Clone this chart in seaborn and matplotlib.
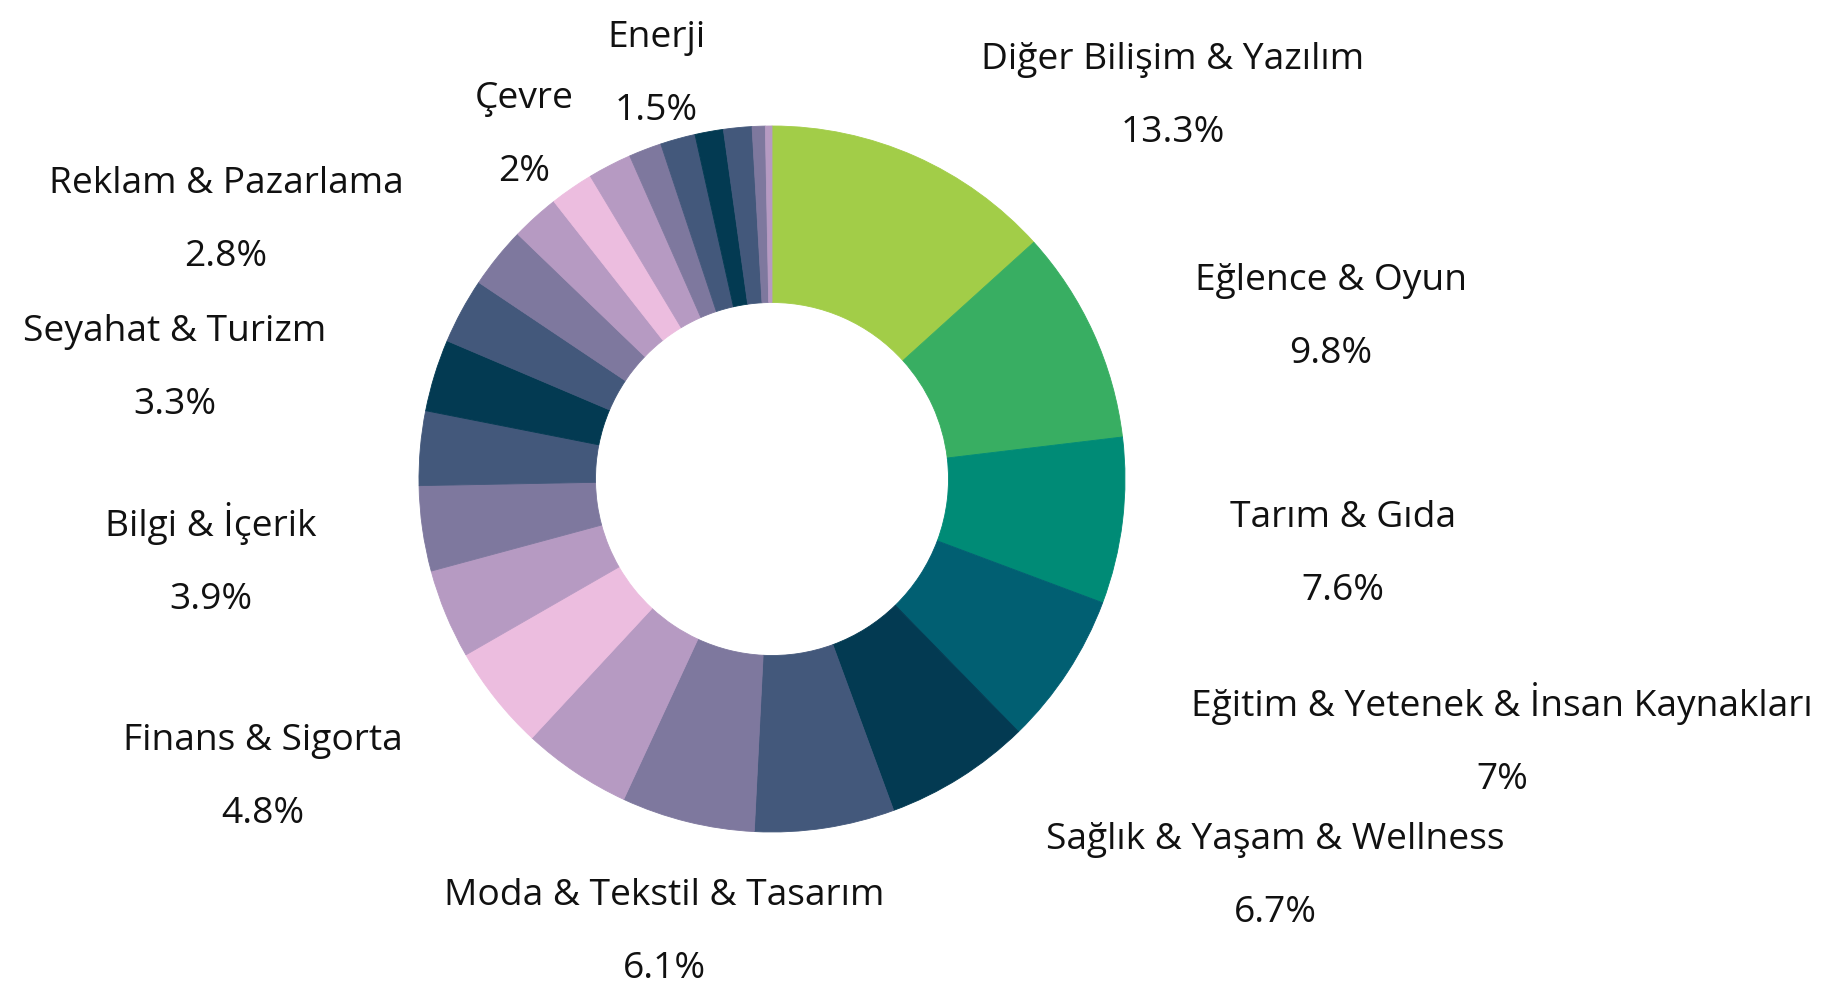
import matplotlib
matplotlib.use("Agg")
import matplotlib.pyplot as plt
import seaborn as sns

# ---- data (clockwise from 12 o'clock) ----
categories = [
    "Diğer Bilişim & Yazılım", "Eğlence & Oyun", "Tarım & Gıda",
    "Eğitim & Yetenek & İnsan Kaynakları", "Sağlık & Yaşam & Wellness", "",
    "Moda & Tekstil & Tasarım", "", "Finans & Sigorta", "", "Bilgi & İçerik", "",
    "Seyahat & Turizm", "", "Reklam & Pazarlama", "", "Çevre", "", "Enerji",
    "", "", "", "", "",
]
values = [13.3, 9.8, 7.6, 7.0, 6.7, 6.4, 6.1, 5.0, 4.8, 4.1, 3.9, 3.4,
          3.3, 3.0, 2.8, 2.2, 2.0, 2.0, 1.5, 1.6, 1.3, 1.3, 0.6, 0.3]

YG, GR, TE, DT, NV, SL, PG, MV, PK = ("#a2cd48", "#38ae62", "#008b76", "#015f72",
                                      "#033a52", "#43587b", "#7e789e", "#b69ac2", "#ecbddf")
colors = [YG, GR, TE, DT, NV, SL, PG, MV, PK, MV, PG, SL, NV, SL, PG, MV, PK, MV,
          PG, SL, NV, SL, PG, MV]

# ---- layout (figure pixels, y from top) ----
W, H = 1826, 985
center_px = (772, 479)
outer_r = 353
ring_w = 176.5
label_pos = {
    "Diğer Bilişim & Yazılım": (1173, 69),
    "Eğlence & Oyun": (1331, 290),
    "Tarım & Gıda": (1343, 527),
    "Eğitim & Yetenek & İnsan Kaynakları": (1502, 716),
    "Sağlık & Yaşam & Wellness": (1275, 849),
    "Moda & Tekstil & Tasarım": (664, 905),
    "Finans & Sigorta": (263, 750),
    "Bilgi & İçerik": (211, 536),
    "Seyahat & Turizm": (175, 341),
    "Reklam & Pazarlama": (226, 193),
    "Çevre": (524, 108),
    "Enerji": (656, 47),
}
line_gap = 73
fs = 26.7

sns.set_theme(style="white")
plt.rcParams["font.family"] = ["Open Sans", "DejaVu Sans"]

fig = plt.figure(figsize=(W / 100, H / 100), dpi=100)
ax = fig.add_axes([0, 0, 1, 1])
wedges, _ = ax.pie(values, colors=colors, startangle=90, counterclock=False,
                   radius=outer_r, center=(center_px[0], H - center_px[1]),
                   wedgeprops=dict(width=ring_w, linewidth=0.6),
                   frame=True)
for w in wedges:
    w.set_edgecolor(w.get_facecolor())
ax.set_xlim(0, W)
ax.set_ylim(0, H)
ax.set_aspect("equal")
ax.axis("off")

for name, v in zip(categories, values):
    if not name:
        continue
    x, yb = label_pos[name]
    ax.text(x, H - yb, name, ha="center", va="baseline", fontsize=fs, color="#111111")
    ax.text(x, H - yb - line_gap, f"{v:g}%", ha="center", va="baseline",
            fontsize=fs, color="#111111")

fig.savefig("out.png", dpi=100, facecolor="white")
